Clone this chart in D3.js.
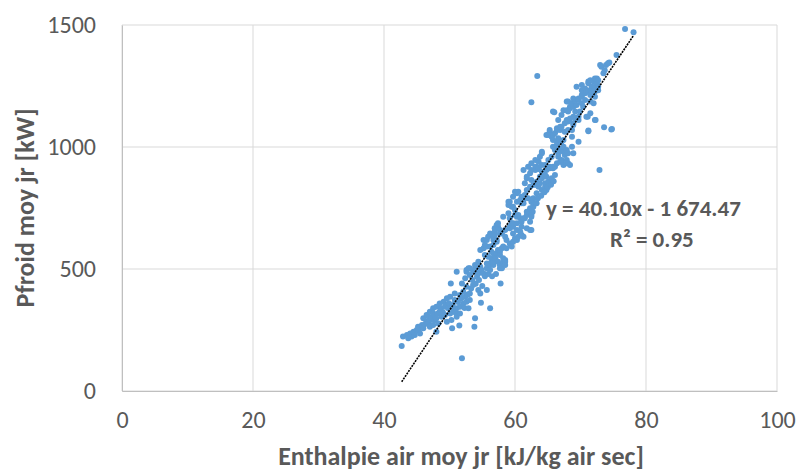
<!DOCTYPE html>
<html>
<head>
<meta charset="utf-8">
<script src="https://cdn.jsdelivr.net/npm/d3@7.9.0/dist/d3.min.js"></script>
<style>
  body { margin: 0; background: #fff; }
  svg { display: block; font-family: Carlito, Calibri, Lato, sans-serif; }
  .tick text { fill: #595959; font-size: 24px; }
  .title { fill: #595959; font-size: 26px; font-weight: bold; }
  .eq { fill: #595959; font-size: 23px; font-weight: bold; }
</style>
</head>
<body>
<svg id="chart" width="798" height="472"></svg>
<script>
// Enthalpie air moy jr [kJ/kg air sec] vs Pfroid moy jr [kW]
const mesures = [
  [42.7,184],[42.9,223],[43.5,229],[43.7,216],[44.0,236],[44.2,223],[44.3,232],[44.5,243],[44.7,229],[45.0,250],
  [45.2,263],[45.3,248],[45.5,236],[45.8,270],[45.9,262],[46.0,298],[46.0,257],[46.3,275],[46.5,311],[46.5,284],
  [46.8,304],[46.8,282],[47.0,325],[47.0,263],[47.0,291],[47.2,300],[47.5,339],[47.5,270],[47.5,318],[47.7,290],
  [47.8,311],[48.0,345],[48.0,298],[48.0,243],[48.2,318],[48.3,277],[48.5,359],[48.5,325],[48.7,338],[48.8,304],
  [49.0,322],[49.1,366],[49.3,311],[49.3,345],[49.5,352],[49.6,380],[49.6,284],[49.8,339],[49.9,360],[50.1,386],
  [50.1,318],[50.2,441],[50.3,291],[50.4,257],[50.5,352],[50.6,332],[50.8,400],[50.8,373],[50.9,322],[51.1,489],
  [51.1,339],[51.1,304],[51.3,365],[51.5,268],[51.6,393],[51.6,345],[51.6,318],[51.8,380],[51.9,441],[51.9,134],
  [52.1,407],[52.1,359],[52.3,340],[52.4,462],[52.4,386],[52.6,427],[52.6,366],[52.6,496],[52.6,489],[52.8,395],
  [52.9,503],[52.9,339],[53.1,475],[53.1,400],[53.1,373],[53.1,503],[53.3,420],[53.5,455],[53.6,489],[53.6,434],
  [53.8,263],[53.9,298],[53.9,503],[53.9,516],[54.0,440],[54.2,468],[54.2,489],[54.4,414],[54.4,482],[54.4,530],
  [54.5,455],[54.7,509],[54.7,400],[54.7,578],[54.8,362],[54.9,496],[55.0,430],[55.2,482],[55.2,585],[55.2,619],
  [55.4,470],[55.4,557],[55.4,598],[55.7,523],[55.7,414],[55.7,503],[55.7,619],[55.7,592],[55.9,480],[55.9,632],
  [55.9,550],[56.2,496],[56.2,339],[56.2,516],[56.2,646],[56.2,592],[56.4,530],[56.4,544],[56.4,571],[56.5,470],
  [56.7,516],[56.7,530],[56.7,632],[56.7,598],[56.7,619],[56.7,564],[56.9,653],[56.9,667],[56.9,639],[57.0,544],
  [57.1,480],[57.2,680],[57.2,619],[57.2,564],[57.2,612],[57.4,530],[57.4,673],[57.4,687],[57.4,578],[57.7,503],
  [57.7,660],[57.7,571],[57.7,516],[57.7,646],[57.7,557],[57.8,441],[58.0,503],[58.0,646],[58.0,585],[58.2,544],
  [58.2,530],[58.2,714],[58.2,592],[58.5,530],[58.5,516],[58.5,632],[58.5,537],[58.5,660],[58.7,619],[58.7,585],
  [59.0,762],[59.0,776],[59.0,728],[59.2,605],[59.2,708],[59.2,776],[59.2,667],[59.2,673],[59.5,687],[59.5,755],
  [59.5,592],[59.7,612],[59.7,673],[59.7,755],[59.7,796],[59.7,687],[59.7,646],[60.0,626],[60.0,721],[60.0,817],
  [60.0,742],[60.3,660],[60.3,776],[60.3,687],[60.3,810],[60.3,714],[60.3,619],[60.5,632],[60.5,721],[60.5,817],
  [60.8,653],[60.8,708],[60.8,783],[61.0,639],[61.0,796],[61.0,673],[61.0,769],[61.0,694],[61.3,708],[61.3,769],
  [61.3,783],[61.3,906],[61.3,632],[61.5,851],[61.5,803],[61.5,708],[61.8,721],[61.8,872],[61.8,667],[61.8,824],
  [61.8,878],[61.8,735],[62.0,735],[62.0,790],[62.0,919],[62.3,749],[62.3,694],[62.3,837],[62.3,892],[62.3,660],
  [62.5,776],[62.5,865],[62.5,906],[62.5,660],[62.5,721],[62.5,933],[62.5,714],[62.5,1183],[62.7,735],[62.8,762],
  [62.8,844],[62.8,790],[62.8,755],[63.0,770],[63.1,919],[63.1,906],[63.1,947],[63.3,844],[63.3,769],[63.3,858],
  [63.3,810],[63.3,919],[63.4,1291],[63.5,790],[63.6,910],[63.6,837],[63.6,913],[63.6,940],[63.8,851],[63.8,878],
  [63.8,960],[64.0,800],[64.1,872],[64.1,824],[64.1,926],[64.1,974],[64.1,981],[64.1,899],[64.3,899],[64.3,892],
  [64.5,815],[64.6,837],[64.6,851],[64.6,926],[64.6,885],[64.8,878],[64.8,824],[64.8,906],[64.8,1049],[65.0,835],
  [65.1,858],[65.1,1049],[65.1,947],[65.3,919],[65.3,913],[65.3,1063],[65.3,1070],[65.5,845],[65.6,872],[65.6,1042],
  [65.6,960],[65.8,913],[65.8,919],[65.8,1029],[65.8,1001],[65.8,1145],[65.8,1049],[65.9,860],[66.0,1142],[66.1,995],
  [66.1,885],[66.1,1056],[66.1,988],[66.1,919],[66.4,1008],[66.4,933],[66.4,1070],[66.4,1022],[66.4,1077],[66.6,974],
  [66.6,995],[66.6,960],[66.6,1036],[66.6,1111],[66.9,1070],[66.9,940],[66.9,1083],[67.1,1022],[67.1,940],[67.1,1083],
  [67.1,988],[67.1,947],[67.1,1131],[67.4,981],[67.4,926],[67.4,1151],[67.4,1001],[67.4,1029],[67.6,1097],[67.6,967],
  [67.6,1063],[67.9,947],[67.9,1151],[67.9,988],[67.9,933],[67.9,1186],[67.9,1111],[68.1,933],[68.1,1186],[68.1,1104],
  [68.1,974],[68.1,1070],[68.1,1145],[68.4,926],[68.4,1165],[68.4,1117],[68.4,1159],[68.7,1001],[68.7,1179],[68.7,1042],
  [68.7,1070],[68.9,974],[68.9,1124],[68.9,1097],[68.9,1199],[68.9,1165],[68.9,1090],[69.2,1193],[69.2,1145],[69.2,1117],
  [69.4,1247],[69.4,1172],[69.7,1022],[69.7,1199],[69.7,1124],[69.7,1193],[69.7,1111],[69.9,1145],[70.2,1213],[70.2,1179],
  [70.2,1233],[70.2,1206],[70.2,1254],[70.4,1165],[70.4,1227],[70.7,1220],[70.7,1193],[70.7,1240],[70.9,1124],[70.9,1227],
  [71.1,1124],[71.2,1268],[71.2,1227],[71.2,1065],[71.2,1261],[71.2,1068],[71.5,1186],[71.5,1213],[71.5,1138],[71.5,1274],
  [71.5,1233],[71.7,1240],[71.7,1247],[71.7,1227],[72.0,1268],[72.0,1179],[72.0,1227],[72.2,1111],[72.2,1206],[72.2,1281],
  [72.2,1227],[72.2,1247],[72.3,1111],[72.5,1254],[72.5,1261],[72.5,1281],[72.7,1274],[72.7,1247],[72.7,1233],[72.9,906],
  [73.0,1336],[73.2,1329],[73.5,1302],[73.6,1081],[73.7,1315],[73.9,1336],[74.2,1343],[74.4,1346],[74.7,1072],[74.8,1074],
  [75.5,1377],[76.8,1484],[78.1,1470]
];

// Courbe de tendance linéaire affichée sur le graphique
const pente = 40.10;
const ordonnee = -1674.47;
const equation = ['y = 40.10x - 1 674.47', 'R² = 0.95'];

const xTicks = [0, 20, 40, 60, 80, 100];
const yTicks = [0, 500, 1000, 1500];
const xTitre = 'Enthalpie air moy jr [kJ/kg air sec]';
const yTitre = 'Pfroid moy jr [kW]';

const svg = d3.select('#chart');
const plot = { left: 122, right: 777, top: 25, bottom: 391 };

const x = d3.scaleLinear().domain([0, 100]).range([plot.left, plot.right]);
const y = d3.scaleLinear().domain([0, 1500]).range([plot.bottom, plot.top]);

// Gridlines
svg.append('g')
  .selectAll('line')
  .data(xTicks)
  .join('line')
  .attr('x1', d => x(d)).attr('x2', d => x(d))
  .attr('y1', plot.top).attr('y2', plot.bottom)
  .attr('stroke', '#d9d9d9').attr('stroke-width', 1);
svg.append('g')
  .selectAll('line')
  .data(yTicks)
  .join('line')
  .attr('x1', plot.left).attr('x2', plot.right)
  .attr('y1', d => y(d)).attr('y2', d => y(d))
  .attr('stroke', '#d9d9d9').attr('stroke-width', 1);

// Axes (labels only, lines in light grey)
const xAxis = svg.append('g')
  .attr('transform', `translate(0,${plot.bottom})`)
  .call(d3.axisBottom(x).tickValues(xTicks).tickSize(0).tickPadding(20).tickFormat(d3.format('d')));
xAxis.select('.domain').attr('stroke', '#bfbfbf');

const yAxis = svg.append('g')
  .attr('transform', `translate(${plot.left},0)`)
  .call(d3.axisLeft(y).tickValues(yTicks).tickSize(0).tickPadding(26).tickFormat(d3.format('d')));
yAxis.select('.domain').attr('stroke', '#bfbfbf');
svg.selectAll('g[font-family]').attr('font-family', null).attr('font-size', null);

// Points
svg.append('g')
  .selectAll('circle')
  .data(mesures)
  .join('circle')
  .attr('cx', d => x(d[0]))
  .attr('cy', d => y(d[1]))
  .attr('r', 3)
  .attr('fill', '#5b9bd5');

// Trend line from min to max enthalpie
const [xmin, xmax] = d3.extent(mesures, d => d[0]);
svg.append('line')
  .attr('x1', x(xmin)).attr('y1', y(pente * xmin + ordonnee))
  .attr('x2', x(xmax)).attr('y2', y(pente * xmax + ordonnee))
  .attr('stroke', '#000')
  .attr('stroke-width', 1.6)
  .attr('stroke-dasharray', '2,1');

// Equation label
svg.append('text').attr('class', 'eq')
  .attr('x', 546).attr('y', 216).text(equation[0]);
svg.append('text').attr('class', 'eq')
  .attr('x', 610).attr('y', 247).text(equation[1]);

// Axis titles
svg.append('text').attr('class', 'title')
  .attr('x', 461).attr('y', 465)
  .attr('text-anchor', 'middle')
  .text(xTitre);
svg.append('text').attr('class', 'title')
  .attr('transform', `translate(34,${208}) rotate(-90)`)
  .attr('text-anchor', 'middle')
  .text(yTitre);
</script>
</body>
</html>
